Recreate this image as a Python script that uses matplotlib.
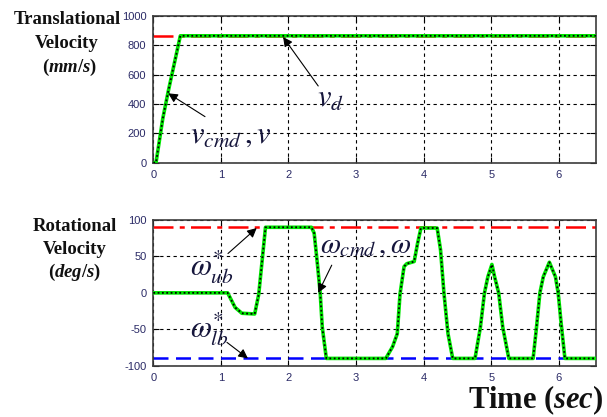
import numpy as np
import matplotlib
matplotlib.use("Agg")
import matplotlib.pyplot as plt

# ---- data ---------------------------------------------------------------
# translational velocity command / response (mm/s)
t_v = [0.0, 0.04, 0.14, 0.22, 0.40, 6.55]
v_cmd = [0, 0, 300, 484, 865, 865]
v_d = 865

# rotational velocity command / response (deg/s)
t_w = [0.00, 1.10, 1.21, 1.31, 1.50, 1.56, 1.61, 1.66, 2.34, 2.38, 2.43, 2.47,
       2.50, 2.56, 3.44, 3.54, 3.61, 3.65, 3.71, 3.75, 3.86, 3.91, 3.96, 4.20,
       4.25, 4.30, 4.36, 4.43, 4.76, 4.84, 4.90, 4.95, 5.01, 5.05, 5.11, 5.17,
       5.26, 5.62, 5.67, 5.72, 5.77, 5.86, 5.95, 5.99, 6.04, 6.09, 6.55]
w_cmd = [0, 0, -20, -28, -29, -2, 44, 90, 90, 82, 38, -1,
         -47, -90, -90, -74, -56, -2, 36, 40, 43, 68, 89, 89,
         59, 0, -56, -90, -90, -47, 0, 22, 39, 22, 0, -47,
         -90, -90, -47, 0, 22, 42, 22, 0, -47, -90, -90]
w_ub = 90
w_lb = -90

x_ticks = [0, 1, 2, 3, 4, 5, 6]
v_ticks = [0, 200, 400, 600, 800, 1000]
w_ticks = [-100, -50, 0, 50, 100]
t_max = 6.55

# ---- style --------------------------------------------------------------
plt.rcParams["axes.unicode_minus"] = False
plt.rcParams["mathtext.fontset"] = "custom"
plt.rcParams["mathtext.rm"] = "Liberation Serif:bold"
plt.rcParams["mathtext.it"] = "Liberation Serif:italic:bold"
plt.rcParams["mathtext.bf"] = "Liberation Serif:bold"

W, H = 607, 417
fig = plt.figure(figsize=(W / 100, H / 100), dpi=100)
fig.patch.set_facecolor("white")

TICK_COL = "#2a2a66"
ANN_COL = "#16163c"
GREEN = "#00e600"


def px_box(x0, y0, x1, y1):
    return [x0 / W, 1 - y1 / H, (x1 - x0) / W, (y1 - y0) / H]


ax1 = fig.add_axes(px_box(153.3, 16, 596, 162.7))
ax2 = fig.add_axes(px_box(153.3, 220, 596, 365.7))


def style_axes(ax, yticks):
    ax.set_xlim(0, t_max)
    ax.set_ylim(yticks[0], yticks[-1])
    ax.set_xticks(x_ticks)
    ax.set_yticks(yticks)
    ax.tick_params(direction="in", length=4, width=0.8, top=True, right=True,
                   labelsize=8, labelcolor=TICK_COL, pad=5)
    for lab in ax.get_xticklabels() + ax.get_yticklabels():
        lab.set_fontfamily("Liberation Sans")
    ax.grid(True, color="black", linestyle=(0, (3, 3)), linewidth=0.8)
    ax.set_axisbelow(True)
    for s in ax.spines.values():
        s.set_color("#3c3c3c")
        s.set_linewidth(1.2)


style_axes(ax1, v_ticks)
style_axes(ax2, w_ticks)

DASHDOT = (0, (8, 2.5, 2, 2.5))
DOTS = (0, (1, 1.4))

# ---- translational velocity --------------------------------------------
ax1.plot([0, t_max], [v_d, v_d], color="#ff0000", lw=1.8,
         linestyle=DASHDOT, zorder=2)
ax1.plot(t_v, v_cmd, color=GREEN, lw=2.6, zorder=3, solid_capstyle="butt")
ax1.plot(t_v, v_cmd, color="black", lw=1.3, linestyle=DOTS, zorder=4)

# ---- rotational velocity -----------------------------------------------
ax2.plot([0, t_max], [w_ub, w_ub], color="#ff0000", lw=1.8,
         linestyle=DASHDOT, zorder=2)
ax2.plot([0, t_max], [w_lb, w_lb], color="#0000ff", lw=1.8,
         linestyle=(0, (6, 3)), zorder=2)
ax2.plot(t_w, w_cmd, color=GREEN, lw=2.6, zorder=3)
ax2.plot(t_w, w_cmd, color="black", lw=1.3, linestyle=DOTS, zorder=4)

# ---- annotations --------------------------------------------------------
arrow = dict(arrowstyle="-|>", color="black", lw=0.8, mutation_scale=14,
             shrinkA=0, shrinkB=0)


def label(ax, x, y, s, size=22):
    ax.text(x, y, s, fontsize=size, color=ANN_COL, ha="left", va="baseline",
            math_fontfamily="stix", zorder=6)


label(ax1, 0.54, 134, r"$v_{cmd}\,,v$")
ax1.annotate("", xy=(0.22, 473), xytext=(0.765, 314), arrowprops=arrow)

label(ax1, 2.42, 379, r"$v_{d}$")
ax1.annotate("", xy=(1.92, 857), xytext=(2.44, 523), arrowprops=arrow)

label(ax2, 0.54, 24, r"$\omega_{ub}^{*}$")
ax2.annotate("", xy=(1.53, 89), xytext=(1.105, 54), arrowprops=arrow)

label(ax2, 0.54, -61, r"$\omega_{lb}^{*}$")
ax2.annotate("", xy=(1.40, -90), xytext=(1.09, -68), arrowprops=arrow)

label(ax2, 2.47, 54, r"$\omega_{cmd}\,,\omega$", size=21)
ax2.annotate("", xy=(2.44, 0), xytext=(2.64, 38), arrowprops=arrow)

# ---- side labels --------------------------------------------------------
def side(x_px, y_px, s, size=13.5):
    fig.text(x_px / W, 1 - y_px / H, s, fontsize=size, fontfamily="Liberation Serif",
             fontweight="bold", ha="center", va="baseline", color="#111111")


side(67, 24, "Translational")
side(67, 48, "Velocity")
side(70, 72, r"($mm$/$s$)")

side(75, 231, "Rotational")
side(75, 254, "Velocity")
side(75, 277, r"($deg$/$s$)")

fig.text(603 / W, 1 - 408 / H, r"Time ($sec$)", fontsize=22,
         fontfamily="Liberation Serif", fontweight="bold", ha="right",
         va="baseline", color="#111111")

fig.savefig("out.png", dpi=100, facecolor="white")
